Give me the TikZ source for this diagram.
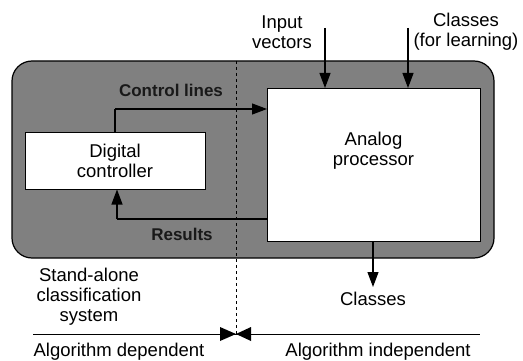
\documentclass[tikz,border=0pt]{standalone}
\usepackage{fontspec}
\setmainfont{Liberation Sans}
\usetikzlibrary{arrows.meta}
\begin{document}
\begin{tikzpicture}[x=1pt,y=-1pt,
  lbl/.style={font=\fontsize{18.5}{20}\selectfont, align=center, inner sep=0pt},
  wbox/.style={draw=black, line width=1pt, fill=white},
  conn/.style={line width=1.1pt, -{Triangle[length=15pt,width=11pt]}},
  glbl/.style={font=\bfseries\fontsize{17}{18}\selectfont, text=black!90, inner sep=0pt}]
\useasboundingbox (0,0) rectangle (523,361);
% outer system
\path[fill=black!50, draw=black, line width=1.2pt, rounded corners=20pt] (12,61) rectangle (494,258);
\coordinate (dtop) at (236,61);
\coordinate (dbot) at (236,334);
\draw[dashed, line width=0.9pt] (dtop) -- (dbot);
% boxes
\node[wbox, minimum width=180pt, minimum height=56pt, lbl] (dc) at (115,161) {Digital\\controller};
\node[wbox, minimum width=213pt, minimum height=153pt, anchor=north west, inner sep=0pt] (ap) at (267,88) {};
\node[lbl] (aplbl) at (373.5,151) {Analog\\processor};
% control lines
\coordinate (c1) at (115,109);
\coordinate (r1) at (117,219);
\draw[line width=1.1pt] (dc.north -| c1) -- (c1);
\draw[conn] (c1) -- (c1 -| ap.west);
\node[glbl] (cl) at (171,90) {Control lines};
% results
\draw[line width=1.1pt] (r1 -| ap.west) -- (r1);
\draw[conn] (r1) -- (r1 |- dc.south);
\node[glbl] (res) at (182,234) {Results};
% inputs
\node[lbl] (iv) at (282,32) {Input\\vectors};
\node[lbl] (cfl) at (466,32) {Classes\\(for learning)};
\coordinate (iva) at (325,28);
\coordinate (cla) at (408,28);
\draw[conn] (iva) -- (iva |- ap.north);
\draw[conn] (cla) -- (cla |- ap.north);
% output
\coordinate (oa) at (373,287);
\draw[conn] (oa |- ap.south) -- (oa);
\node[lbl] (cls) at (373,299) {Classes};
\node[lbl] (sa) at (89,297) {Stand-alone\\classification\\system};
% bottom line
\coordinate (bl) at (33,334);
\coordinate (br) at (480,334);
\draw[line width=0.9pt] (bl) -- (br);
\fill[black] (dbot) -- (220,327) -- (220,341) -- cycle;
\fill[black] (dbot) -- (251,327) -- (251,341) -- cycle;
\node[lbl] (ad) at (119,352) {Algorithm dependent};
\node[lbl] (ai) at (378,352) {Algorithm independent};
\end{tikzpicture}
\end{document}
